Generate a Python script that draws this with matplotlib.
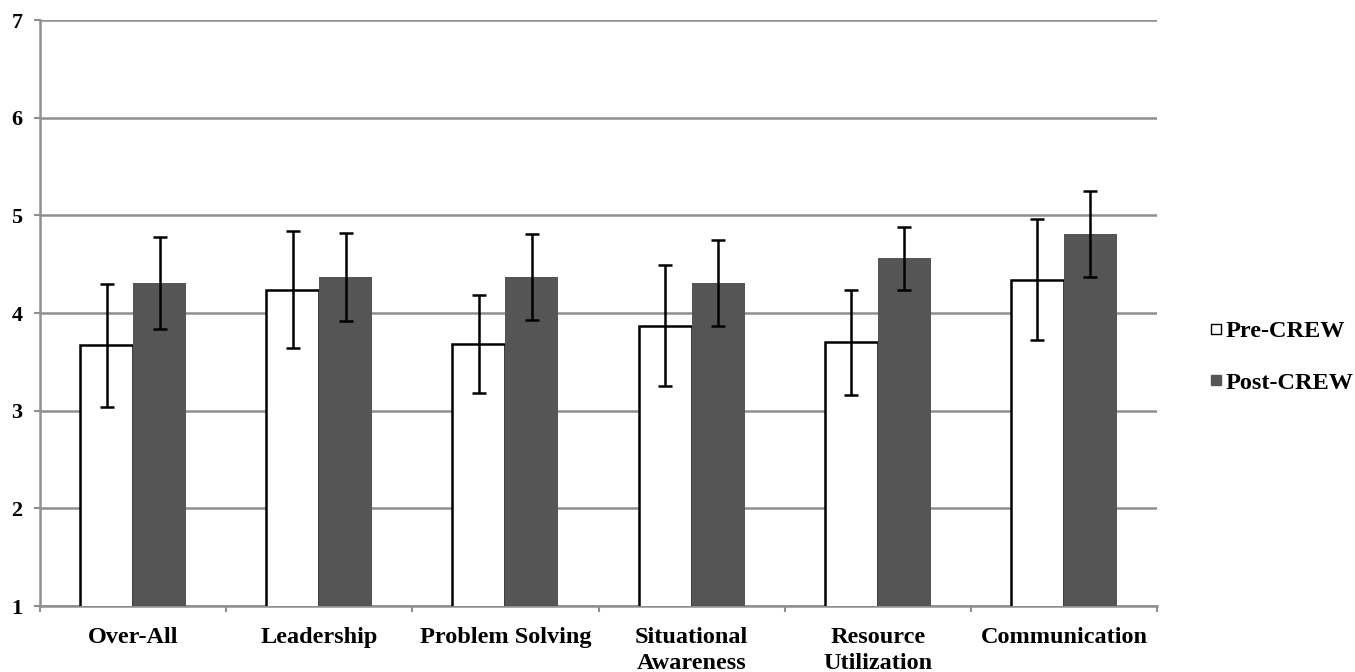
import matplotlib
matplotlib.use("Agg")
import matplotlib.pyplot as plt
from matplotlib.lines import Line2D
import numpy as np

categories = ["Over-All", "Leadership", "Problem Solving", "Situational\nAwareness",
              "Resource\nUtilization", "Communication"]
pre_means = [3.67, 4.24, 3.68, 3.87, 3.70, 4.34]
pre_err = [0.63, 0.60, 0.50, 0.62, 0.54, 0.62]
post_means = [4.31, 4.37, 4.37, 4.31, 4.56, 4.81]
post_err = [0.47, 0.45, 0.44, 0.44, 0.32, 0.44]
series_names = ["Pre-CREW", "Post-CREW"]
y_ticks = [1, 2, 3, 4, 5, 6, 7]

plt.rcParams["font.family"] = ["Liberation Serif", "DejaVu Serif"]
plt.rcParams["font.weight"] = "bold"

fig = plt.figure(figsize=(13.55, 6.72), dpi=100)
ax = fig.add_axes([40 / 1355, 1 - 606 / 672, 1117 / 1355, 586 / 672])

grid_c = "#8f8f8f"
post_c = "#555555"
x = np.arange(len(categories))
w = 0.285

ax.bar(x - w / 2, pre_means, w, color="white", edgecolor="black", linewidth=1.8, zorder=3)
ax.bar(x + w / 2, post_means, w, color=post_c, edgecolor="none", zorder=3)
err_kw = dict(fmt="none", ecolor="black", elinewidth=1.8, capsize=5, capthick=1.8, zorder=4)
ax.errorbar(x - w / 2, pre_means, yerr=pre_err, **err_kw)
ax.errorbar(x + w / 2, post_means, yerr=post_err, **err_kw)

ax.set_xlim(-0.5, len(categories) - 0.5)
ax.set_ylim(1, 7)
ax.set_yticks(y_ticks)
ax.set_yticklabels([str(t) for t in y_ticks], fontsize=16, fontweight="bold")
ax.yaxis.grid(True, color=grid_c, linewidth=1.8, zorder=0)
ax.set_axisbelow(True)

ax.set_xticks(x)
ax.set_xticklabels(categories, fontsize=17.5, fontweight="bold", linespacing=1.3)
ax.set_xticks(np.arange(len(categories) + 1) - 0.5, minor=True)
ax.tick_params(axis="x", which="major", length=0, pad=15)
ax.tick_params(axis="x", which="minor", length=4.5, width=1.5, color=grid_c)
ax.tick_params(axis="y", length=4.5, width=1.5, color=grid_c, pad=8)

for side in ["top", "right"]:
    ax.spines[side].set_visible(False)
for side in ["left", "bottom"]:
    ax.spines[side].set_color(grid_c)
    ax.spines[side].set_linewidth(1.8)

handles = [
    Line2D([], [], linestyle="none", marker="s", markersize=7.5,
           markerfacecolor="white", markeredgecolor="black", markeredgewidth=1.0),
    Line2D([], [], linestyle="none", marker="s", markersize=7.5,
           markerfacecolor=post_c, markeredgecolor=post_c),
]
fig.legend(handles, series_names, loc="center left", bbox_to_anchor=(1188 / 1355, 1 - 357 / 672),
           frameon=False, handlelength=0.5, handletextpad=0.15, labelspacing=1.2,
           prop={"family": "Liberation Serif", "weight": "bold", "size": 17.5})

fig.savefig("out.png", dpi=100)
